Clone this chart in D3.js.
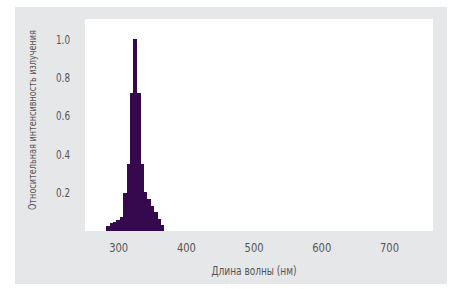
<!DOCTYPE html>
<html><head><meta charset="utf-8">
<script src="https://cdn.jsdelivr.net/npm/d3@7"></script>
<style>
html,body{margin:0;padding:0;background:#fff;}
svg text{font-family:"DejaVu Sans","Liberation Sans",sans-serif;font-stretch:condensed;fill:#555;}
</style></head>
<body><svg id="c" width="451" height="289"></svg>
<script>
const wavelengths = [285,290,295,300,305,310,315,320,325,330,335,340,345,350,355,360,365];
const intensity   = [0.028,0.043,0.047,0.057,0.075,0.2,0.347,0.72,1.0,0.72,0.347,0.205,0.167,0.13,0.097,0.064,0.033];
const xTicks = [300,400,500,600,700];
const yTicks = [0.2,0.4,0.6,0.8,1.0];
const binWidth = 5;
const xTitle = "Длина волны (нм)";
const yTitle = "Относительная интенсивность излучения";

const svg = d3.select("#c");
svg.append("rect").attr("x",15).attr("y",7).attr("width",432).attr("height",277).attr("fill","#e6e7e8");
const L=85,T=19,R=433,B=231;
svg.append("rect").attr("x",L).attr("y",T).attr("width",R-L).attr("height",B-T).attr("fill","#fff");

const x = d3.scaleLinear().domain([251,765]).range([L,R]);
const y = d3.scaleLinear().domain([0,1.104]).range([B,T]);

svg.append("g").attr("shape-rendering","crispEdges").selectAll("rect").data(wavelengths).join("rect")
  .attr("x",(d)=>x(d-binWidth/2))
  .attr("width",(d)=>x(d+binWidth/2)-x(d-binWidth/2)+0.5)
  .attr("y",(d,i)=>y(intensity[i]))
  .attr("height",(d,i)=>y(0)-y(intensity[i]))
  .attr("fill","#36094f");

const xa = svg.append("g").attr("transform",`translate(0,${B})`)
  .call(d3.axisBottom(x).tickValues(xTicks).tickSize(0).tickPadding(12).tickFormat(d3.format("d")));
xa.select(".domain").remove();
xa.selectAll("text").attr("font-size",13).style("fill","#555")
  .attr("textLength",19).attr("lengthAdjust","spacingAndGlyphs");

const ya = svg.append("g").attr("transform",`translate(${L},0)`)
  .call(d3.axisLeft(y).tickValues(yTicks).tickSize(0).tickPadding(15).tickFormat(d3.format(".1f")));
ya.select(".domain").remove();
ya.selectAll("text").attr("font-size",13).style("fill","#555")
  .attr("textLength",14).attr("lengthAdjust","spacingAndGlyphs");

svg.append("text").attr("x",254).attr("y",275).attr("text-anchor","middle")
  .attr("font-size",12).attr("textLength",85).attr("lengthAdjust","spacingAndGlyphs").text(xTitle);
svg.append("text").attr("transform","translate(35.5,120) rotate(-90)").attr("text-anchor","middle")
  .attr("font-size",10.5).attr("textLength",180).attr("lengthAdjust","spacingAndGlyphs").text(yTitle);
</script></body></html>
